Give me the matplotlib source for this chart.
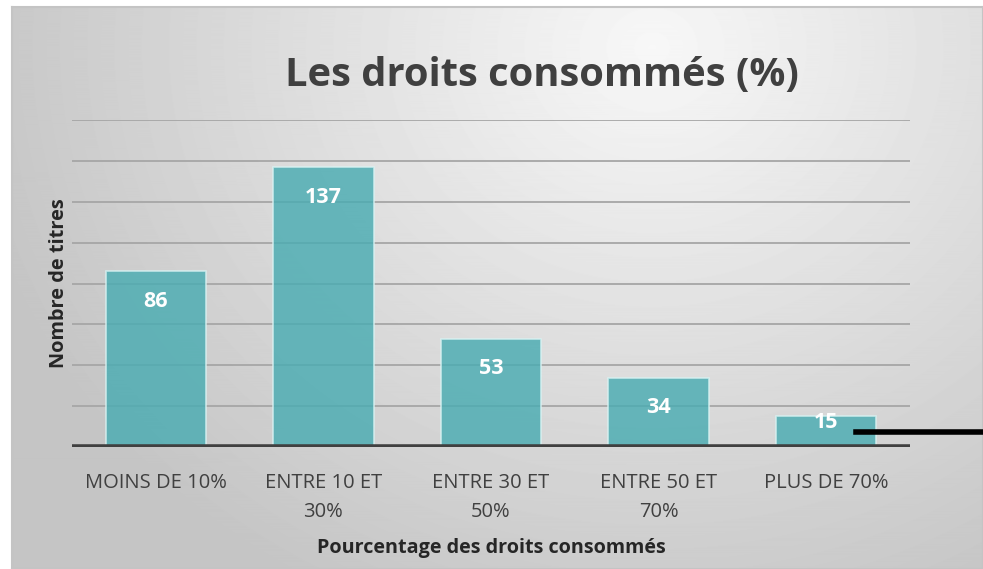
import matplotlib.pyplot as plt
import numpy as np

# data
categories = ['MOINS DE 10%', 'ENTRE 10 ET\n30%', 'ENTRE 30 ET\n50%', 'ENTRE 50 ET\n70%', 'PLUS DE 70%']
values = [86, 137, 53, 34, 15]
grid_ticks = [20, 40, 60, 80, 100, 120, 140, 160]

plt.rcParams['font.family'] = ['Open Sans', 'DejaVu Sans']

fig = plt.figure(figsize=(9.83, 5.69), dpi=100)

# gradient background inside the chart frame
bg = fig.add_axes([12 / 983, 0, 1 - 12 / 983, 1 - 7 / 569])
yy, xx = np.mgrid[0:560, 0:971]
dist = np.sqrt(((xx - 640) / 700.0) ** 2 + ((yy - 40) / 620.0) ** 2)
shade = np.clip(0.97 - 0.2 * dist, 0.77, 0.97)
bg.imshow(shade, cmap='gray', vmin=0, vmax=1, aspect='auto', extent=[0, 1, 0, 1])
bg.set_xticks([])
bg.set_yticks([])
for s in bg.spines.values():
    s.set_color('#c4c4c4')
    s.set_linewidth(1.5)

ax = fig.add_axes([72 / 983, 1 - 447 / 569, 838 / 983, 327 / 569])
ax.patch.set_alpha(0)
x = np.arange(len(categories))

for t in grid_ticks:
    ax.axhline(t, color='#a6a6a6', lw=1.3, zorder=1)

ax.bar(x, values, width=0.6, color='#4aacb2', alpha=0.82,
       edgecolor='#d8f2f2', linewidth=1.2, zorder=2)
ax.axhline(0, color='#404040', lw=4, zorder=3)

for xi, v in zip(x, values):
    ypos = v - 14.7 if v > 30 else v - 3
    ax.text(xi, ypos, str(v), ha='center', va='center', color='white',
            fontsize=15.5, fontweight='bold', zorder=4)

# stray black leader line at the right
ax.plot([4.18, 5.65], [7.5, 7.5], color='black', lw=4, clip_on=False, zorder=5)

ax.set_xlim(-0.5, 4.5)
ax.set_ylim(0, 160)
ax.set_xticks(x)
ax.set_xticklabels(categories, fontsize=14.5, color='#404040', linespacing=1.6)
ax.tick_params(axis='x', length=0, pad=19)
ax.set_yticks([])
for s in ax.spines.values():
    s.set_visible(False)

ax.set_xlabel('Pourcentage des droits consommés', fontsize=14.2, fontweight='bold',
              color='#262626', labelpad=11)
ax.set_ylabel('Nombre de titres', fontsize=14.4, fontweight='bold', color='#262626',
              labelpad=2)

fig.text(542 / 983, 1 - 75 / 569, 'Les droits consommés (%)', ha='center', va='center',
         fontsize=28.7, fontweight='bold', color='#404040')

fig.savefig('out.png', dpi=100)
